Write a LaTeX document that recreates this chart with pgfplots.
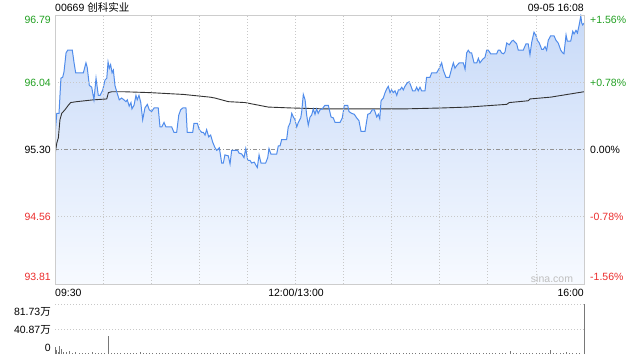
\documentclass[border=0pt]{standalone}
\usepackage{pgfplots}
\usepackage{pgfplotstable}
\pgfplotsset{compat=1.18}
\usepackage{fontspec}
\setmainfont{Liberation Sans}
\newfontfamily\cjk{Noto Sans CJK SC}
\definecolor{upg}{RGB}{34,160,34}
\definecolor{dnr}{RGB}{235,45,45}
\definecolor{pline}{RGB}{80,140,235}
\definecolor{ftop}{RGB}{200,218,248}
\definecolor{fbot}{RGB}{247,250,255}
\definecolor{gridc}{RGB}{200,200,200}
\definecolor{framec}{RGB}{205,205,205}
\definecolor{volc}{RGB}{120,120,120}

\pgfplotstableread{
t p
0 95.46
1.1 95.70
2.5 95.70
3.7 96.09
4.8 96.10
5.6 96.16
6.9 96.37
7.9 96.40
10.8 96.40
11.9 96.26
12.9 96.15
17.7 96.15
19.3 96.26
20.1 96.21
21.4 96.01
22.9 95.99
24.3 95.85
25.6 96.09
27.0 95.90
28.1 95.90
29.8 95.96
31.2 96.07
32.3 96.09
33.1 96.27
33.9 96.20
34.7 96.24
35.6 96.15
36.4 96.18
37.4 96.01
38.5 95.94
40.1 95.85
41.6 95.87
43.0 95.85
44.3 95.83
45.1 95.85
46.3 95.78
47.4 95.82
48.0 95.75
49.3 95.79
50.5 95.90
51.3 95.85
52.4 95.90
53.5 95.82
54.7 95.63
56.1 95.76
57.6 95.80
58.8 95.74
60.3 95.72
61.8 95.76
64.4 95.76
65.5 95.55
66.6 95.55
68.0 95.60
69.2 95.55
72.8 95.55
74.2 95.49
75.9 95.49
77.2 95.68
78.4 95.74
79.7 95.76
81.7 95.76
82.5 95.49
85.9 95.49
86.7 95.59
88.8 95.59
90.0 95.52
91.5 95.49
92.5 95.49
93.6 95.46
94.6 95.52
95.9 95.44
97.1 95.46
98.4 95.38
99.8 95.32
100.9 95.29
102.5 95.32
104.0 95.15
105.0 95.15
106.0 95.24
108.1 95.23
109.2 95.14
110.2 95.29
114.0 95.29
114.8 95.26
116.5 95.25
117.9 95.21
119.0 95.31
120.2 95.18
121.6 95.18
122.7 95.15
124.3 95.16
125.2 95.13
126.2 95.10
127.3 95.24
128.5 95.15
131.4 95.15
132.7 95.21
133.5 95.31
134.7 95.25
138.3 95.25
139.3 95.34
140.4 95.34
141.4 95.41
144.5 95.41
145.5 95.55
146.6 95.59
147.7 95.70
148.7 95.66
149.7 95.63
150.8 95.55
151.8 95.60
153.3 95.65
153.9 95.72
154.9 95.91
156.0 95.85
157.0 95.68
158.0 95.57
159.1 95.66
160.1 95.68
161.1 95.75
162.2 95.69
163.2 95.75
164.2 95.70
165.3 95.74
166.7 95.75
168.4 95.79
170.5 95.79
172.2 95.66
173.6 95.65
174.7 95.60
177.8 95.60
179.2 95.65
180.5 95.79
182.6 95.79
183.4 95.72
185.1 95.70
186.7 95.69
188.2 95.65
189.6 95.62
190.9 95.50
193.4 95.50
195.1 95.69
196.5 95.70
197.9 95.74
199.2 95.74
200.7 95.66
201.7 95.69
202.6 95.64
203.4 95.84
204.8 95.87
205.9 95.93
206.9 95.97
207.9 96.00
209.0 95.93
210.0 95.96
211.0 95.93
212.1 95.95
213.2 95.90
214.2 95.96
215.2 95.96
216.3 95.99
217.3 95.96
218.3 96.00
219.8 96.04
221.0 96.05
222.1 96.00
223.1 95.95
224.6 95.95
225.6 95.99
226.6 95.95
227.7 95.99
228.7 95.95
230.8 95.95
231.8 96.10
233.9 96.10
235.0 96.15
238.1 96.15
239.7 96.20
241.2 96.26
242.2 96.18
243.9 96.10
246.0 96.10
247.5 96.20
248.5 96.26
249.5 96.20
250.6 96.23
252.2 96.26
254.7 96.26
255.8 96.19
256.8 96.37
257.8 96.40
258.9 96.37
259.9 96.37
261.4 96.26
263.1 96.26
264.1 96.31
265.1 96.26
266.8 96.30
268.2 96.32
269.3 96.40
270.3 96.40
271.8 96.36
275.5 96.36
276.5 96.40
277.6 96.40
278.6 96.37
279.7 96.36
280.7 96.38
281.8 96.48
283.4 96.46
284.9 96.50
285.9 96.51
286.9 96.49
288.0 96.47
289.0 96.40
292.1 96.40
293.8 96.47
295.2 96.47
296.3 96.35
297.4 96.49
298.8 96.60
300.1 96.56
300.9 96.51
302.1 96.48
303.6 96.41
304.6 96.41
305.7 96.44
306.7 96.40
307.7 96.51
309.2 96.56
311.3 96.56
312.5 96.51
313.9 96.48
315.5 96.40
316.7 96.37
317.5 96.36
318.8 96.57
319.6 96.50
321.7 96.50
323.0 96.61
323.8 96.58
325.0 96.62
325.9 96.59
327.1 96.69
328.0 96.78
328.6 96.70
329.2 96.68
330.0 96.70
}\price

\pgfplotstableread{
t a
0 95.24
1.1 95.37
2.1 95.43
3.1 95.63
4.2 95.70
6.2 95.74
8.3 95.79
9.8 95.82
13.5 95.83
23.9 95.85
32.3 95.86
33.3 95.93
35.4 95.94
42.6 95.94
59.3 95.93
80.1 95.91
96.7 95.88
99.8 95.87
108.1 95.83
118.5 95.82
133.0 95.77
147.5 95.76
168.4 95.75
218.3 95.75
241.2 95.76
257.6 95.77
281.8 95.80
283.4 95.82
295.2 95.84
296.3 95.86
309.2 95.88
330.0 95.94
}\avgp

\pgfplotstableread{
t v
0 11
1 6
2 4
3 13
4 8
5 3
7 2.5
9 5.5
11 2
13 2.5
15 1.5
17 2
19 1.5
21 2
23 2.5
25 1.5
27 2
29 1.5
31 2
33 29
35 2
37 1.5
39 2
41 1.5
43 2
45 1.5
47 2
49 1.5
51 2
53 2.5
55 1.5
57 2
59 1.5
61 2
63 1.5
65 2
67 1.5
69 2
71 1.5
73 2
75 1.5
77 2
79 1.5
81 2
83 1.5
85 2
87 1.5
89 2
91 1.5
93 2
95 1.5
97 2
99 1.5
101 2
103 1.5
105 2
107 1.5
109 2
111 1.5
113 2
115 1.5
117 2
119 1.5
121 2
123 1.5
125 2
127 1.5
129 2
131 1.5
133 2
135 1.5
137 2
139 1.5
141 2
143 1.5
145 2
147 1.5
149 2
151 2
153 1.5
155 2
157 1.5
159 2
161 1.5
163 2
165 1.5
167 2
169 1.5
171 2
173 1.5
175 2
177 1.5
179 2
181 1.5
183 2
185 1.5
187 2
189 1.5
191 2
193 1.5
195 2
197 1.5
199 2
201 1.5
203 2
205 1.5
207 2
209 1.5
211 2
213 1.5
215 2
217 1.5
219 2
221 1.5
223 2
225 1.5
227 2
229 1.5
231 2
233 1.5
235 2
237 1.5
239 2
241 1.5
243 2
245 1.5
247 2
249 1.5
251 2
253 1.5
255 2
257 1.5
259 2
261 1.5
263 2
265 1.5
267 2
269 1.5
271 2
273 1.5
275 2
277 1.5
279 2
281 1.5
284 5.5
286 1.5
288 2
290 1.5
292 2
294 1.5
296 2
298 2
300 1.5
302 2
304 1.5
306 2
308 2
309 6
311 2
313 1.5
315 2
317 1.5
319 4
321 2
323 1.5
325 2
327 1.5
330 81.73
}\vol

\begin{document}
\begin{tikzpicture}[x=1bp,y=1bp,font=\fontsize{10.5bp}{12bp}\selectfont,
  lab/.style={inner sep=0pt,text height=7.5bp,text depth=0pt}]
\path[use as bounding box] (0bp,0bp) rectangle (640bp,360bp);
\begin{axis}[at={(55bp,76bp)},anchor=south west,scale only axis,
  width=529bp,height=269bp,
  xmin=0,xmax=330,ymin=93.81,ymax=96.79,
  xtick={30,60,...,300},ytick={94.56,96.04},
  xticklabels={},yticklabels={},major tick length=0pt,
  grid=major,major grid style={gridc,dash pattern=on 1bp off 2bp,line width=0.8bp},
  axis line style={framec,line width=0.8bp},
  axis on top]
\addplot[draw=none,top color=ftop,bottom color=fbot] table[x=t,y=p]{\price} \closedcycle;
\addplot[gray!85,dash pattern=on 4bp off 2bp on 1bp off 2bp,line width=0.7bp] coordinates {(0,95.30) (330,95.30)};
\addplot[black!80,line width=0.9bp] table[x=t,y=a]{\avgp};
\addplot[pline,line width=1bp] table[x=t,y=p]{\price};
\end{axis}
\begin{axis}[at={(55bp,6bp)},anchor=south west,scale only axis,
  width=529bp,height=50bp,
  xmin=0,xmax=330,ymin=0,ymax=81.73,
  xtick=\empty,ytick={40.87,81.73},yticklabels={},major tick length=0pt,
  ymajorgrids,major grid style={gridc,dash pattern=on 1bp off 2bp,line width=0.8bp},
  axis line style={draw=none},clip=false]
\addplot[ycomb,volc,line width=0.7bp,mark=none] table[x=t,y=v]{\vol};
\end{axis}
% title and date
\node[lab,anchor=west] at (55bp,352bp) {00669 {\cjk 创科实业}};
\node[lab,anchor=east] at (584bp,352bp) {09-05 16:08};
% left labels
\node[lab,anchor=east,text=upg] at (51bp,340bp) {96.79};
\node[lab,anchor=east,text=upg] at (51bp,277bp) {96.04};
\node[lab,anchor=east] at (51bp,210.5bp) {95.30};
\node[lab,anchor=east,text=dnr] at (51bp,143bp) {94.56};
\node[lab,anchor=east,text=dnr] at (51bp,83bp) {93.81};
% right labels
\node[lab,anchor=west,text=upg] at (590bp,340bp) {+1.56\%};
\node[lab,anchor=west,text=upg] at (590bp,277bp) {+0.78\%};
\node[lab,anchor=west] at (590bp,210.5bp) {0.00\%};
\node[lab,anchor=west,text=dnr] at (590bp,143bp) {-0.78\%};
\node[lab,anchor=west,text=dnr] at (590bp,83bp) {-1.56\%};
% x labels
\node[lab,anchor=west] at (55bp,67bp) {09:30};
\node[lab] at (296bp,67bp) {12:00/13:00};
\node[lab,anchor=east] at (584bp,67bp) {16:00};
% volume labels
\node[lab,anchor=east] at (51bp,48bp) {81.73{\cjk 万}};
\node[lab,anchor=east] at (51bp,30bp) {40.87{\cjk 万}};
\node[lab,anchor=east] at (51bp,12bp) {0};
% watermark
\node[lab,text=black!25] at (552bp,81bp) {sina.com};
\end{tikzpicture}
\end{document}
